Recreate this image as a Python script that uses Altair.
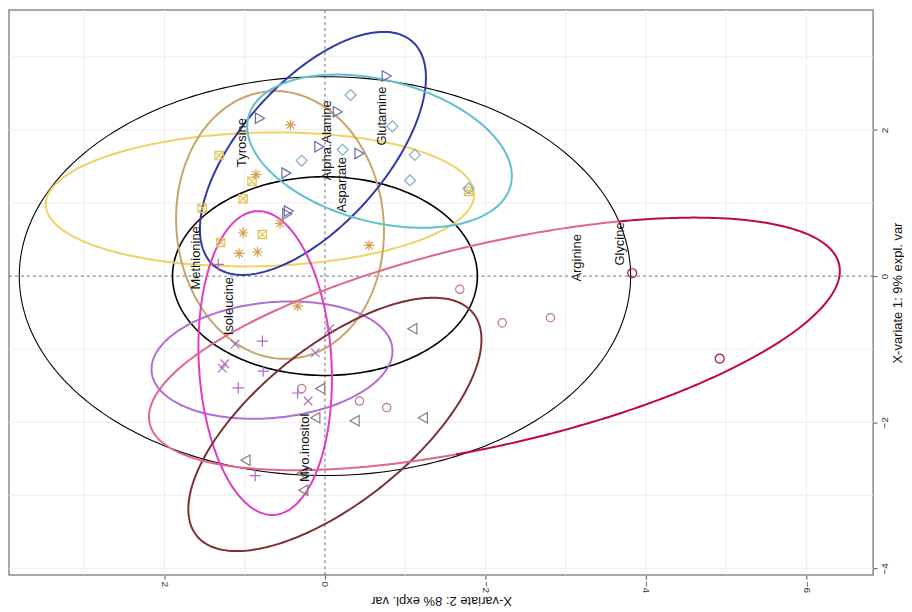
import math
import altair as alt
import pandas as pd

# ---------------- data (comp1 = X-variate 1, comp2 = X-variate 2) ----------------
met_c2 = [1.32, 1.53, 1.02, 0.91, 0.78, 1.30, -1.79]
met_c1 = [1.65, 0.93, 1.06, 1.30, 0.57, 0.46, 1.16]

tyr_c2 = [0.43, 0.86, 1.02, 1.07, 0.84, 0.56, -0.55, 0.34]
tyr_c1 = [2.07, 1.39, 0.59, 0.31, 0.33, 0.72, 0.42, -0.41]

ala_c2 = [-0.77, 0.81, -0.16, 0.07, -0.43, 0.48, 0.47, 0.45]
ala_c1 = [2.74, 2.16, 2.25, 1.77, 1.68, 1.41, 0.85, 0.89]

gln_c2 = [-0.32, -0.84, -0.22, 0.29, -1.12, -1.06, -1.79]
gln_c1 = [2.48, 2.05, 1.73, 1.58, 1.66, 1.31, 1.20]

ile_c2 = [1.33, 0.78, 0.77, 1.08, 0.87, 0.34]
ile_c1 = [0.16, -0.89, -1.30, -1.53, -2.73, -1.60]

myo_c2 = [1.12, 1.28, 1.25, 0.21, -0.06, 0.12]
myo_c1 = [-0.93, -1.26, -1.20, -1.71, -0.72, -1.05]

asp_c2 = [-1.09, 0.06, -0.37, -1.22, 0.12, 0.99, 0.29, 0.27]
asp_c1 = [-0.72, -1.54, -1.98, -1.94, -1.94, -2.52, -2.70, -2.93]

arg_c2 = [0.29, -0.43, -0.77, -1.68, -2.21, -2.81]
arg_c1 = [-1.54, -1.71, -1.80, -0.18, -0.64, -0.57]

gly_c2 = [-3.83, -4.92]
gly_c1 = [0.04, -1.13]

# ellipses: centre (c2, c1), half-axis vectors u and v (c2, c1)
ell_names = ["all", "inner", "Methionine", "Tyrosine", "Alpha.Alanine", "Glutamine",
             "Isoleucine", "Myo.inositol", "Aspartate", "Arginine", "Glycine"]
ell_cx = [0.0, 0.0, 0.81, 0.56, 0.15, -0.68, 0.66, 0.745, -0.124, -2.112, -2.112]
ell_cy = [0.0, 0.0, 1.05, 0.70, 1.68, 1.71, -1.15, -1.19, -2.03, -0.928, -0.928]
ell_ux = [3.81, 1.90, -2.67, -0.155, -1.24, -1.634, -1.50, 0.108, -1.723, -4.296, -4.296]
ell_uy = [0.0, 0.0, 0.075, -1.828, 1.53, -0.471, 0.162, 2.079, 1.523, 1.090, 1.090]
ell_vx = [0.0, 0.0, -0.021, -1.286, -0.668, 0.224, -0.071, -0.825, -0.607, -0.282, -0.282]
ell_vy = [2.73, 1.36, -0.914, 0.132, -0.653, -0.937, -0.787, 0.052, -0.829, -1.342, -1.342]
ell_t0 = [0, 0, 0, 0, 0, 0, 0, 0, 0, 100, -65]
ell_t1 = [360, 360, 360, 360, 360, 360, 360, 360, 360, 295, 100]

# labels
lab_text = ["Glycine", "Arginine", "Glutamine", "Alpha.Alanine", "Aspartate",
            "Tyrosine", "Methionine", "Isoleucine", "Myo.inositol"]
lab_c2 = [-3.68, -3.14, -0.71, -0.02, -0.21, 1.03, 1.61, 1.20, 0.25]
lab_c1 = [0.44, 0.25, 2.19, 1.86, 1.25, 1.83, 0.25, -0.41, -2.35]

x_ticks = [2, 0, -2, -4, -6]
y_ticks = [2, 0, -2, -4]
grid_x = [-6, -5, -4, -3, -2, -1, 1, 2, 3]
grid_y = [-4, -3, -2, -1, 1, 2, 3]

# ---------------- styles ----------------
ell_color = {"all": "#000000", "inner": "#000000", "Methionine": "#f0d264",
             "Tyrosine": "#c9a46a", "Alpha.Alanine": "#2f3aa6", "Glutamine": "#5fc0cc",
             "Isoleucine": "#b06ed6", "Myo.inositol": "#e03cc4", "Aspartate": "#7e3034",
             "Arginine": "#e0668a", "Glycine": "#c0083c"}
ell_width = {"all": 1.1, "inner": 1.6}

ASTER = "M-1,0L1,0M0,-1L0,1M-0.7,-0.7L0.7,0.7M-0.7,0.7L0.7,-0.7"
BOXX = "M-1,-1L1,-1L1,1L-1,1ZM-1,-1L1,1M-1,1L1,-1"
PLUS = "M-1,0L1,0M0,-1L0,1"
XMARK = "M-0.75,-0.75L0.75,0.75M-0.75,0.75L0.75,-0.75"

series = [
    ("Methionine", met_c2, met_c1, BOXX, "#e6c45a", 70),
    ("Tyrosine", tyr_c2, tyr_c1, ASTER, "#d4a050", 110),
    ("Alpha.Alanine", ala_c2, ala_c1, "triangle-right", "#6a6aaa", 110),
    ("Glutamine", gln_c2, gln_c1, "diamond", "#7fb0c4", 120),
    ("Isoleucine", ile_c2, ile_c1, PLUS, "#b068c8", 130),
    ("Myo.inositol", myo_c2, myo_c1, XMARK, "#a870c4", 130),
    ("Aspartate", asp_c2, asp_c1, "triangle-left", "#8a7a7a", 110),
    ("Arginine", arg_c2, arg_c1, "circle", "#c87890", 70),
    ("Glycine", gly_c2, gly_c1, "circle", "#a01030", 80),
]

# ---------------- scales / axes ----------------
XDOM = [-6.832, 3.938]
YDOM = [-4.093, 3.643]
xs = alt.Scale(domain=XDOM, reverse=True, nice=False, zero=False)
ys = alt.Scale(domain=YDOM, nice=False, zero=False)

FONT_T = "Liberation Sans Narrow, Liberation Sans, Arial"

x_axis = alt.Axis(
    orient="bottom", values=x_ticks, grid=False, labelAngle=90, labelAlign="left",
    labelBaseline="middle", labelFontSize=10, labelColor="#333333", tickColor="#555555",
    tickSize=4, domain=False, title="X-variate 2: 8% expl. var", titleAngle=180,
    titleBaseline="bottom",
    titleFontSize=13, titleFontWeight="normal", titleFont=FONT_T,
    titleColor="#111111", titlePadding=1, labelPadding=2)
y_axis = alt.Axis(
    orient="right", values=y_ticks, grid=False, labelAngle=270, labelAlign="center",
    labelBaseline="top", labelFontSize=10, labelColor="#333333", tickColor="#555555",
    tickSize=4, domain=False, title="X-variate 1: 9% expl. var", titleAngle=270,
    titleBaseline="top",
    titleFontSize=13, titleFontWeight="normal", titleFont=FONT_T,
    titleColor="#111111", titlePadding=2, labelPadding=2)


def X():
    return alt.X("c2:Q", scale=xs, axis=x_axis)


def Y():
    return alt.Y("c1:Q", scale=ys, axis=y_axis)


# ---------------- build tables ----------------
rows = []
for i, n in enumerate(ell_names):
    t0, t1 = ell_t0[i], ell_t1[i]
    steps = 240
    for k in range(steps + 1):
        t = math.radians(t0 + (t1 - t0) * k / steps)
        rows.append({
            "ell": f"{n}_{i}",
            "ord": k,
            "c2": ell_cx[i] + ell_ux[i] * math.cos(t) + ell_vx[i] * math.sin(t),
            "c1": ell_cy[i] + ell_uy[i] * math.cos(t) + ell_vy[i] * math.sin(t),
            "col": ell_color[n],
            "w": ell_width.get(n, 2.0),
        })
ell_df = pd.DataFrame(rows)

grid_v = alt.Chart(pd.DataFrame({"c2": grid_x})).mark_rule(color="#ececec", strokeWidth=1).encode(x=X())
grid_h = alt.Chart(pd.DataFrame({"c1": grid_y})).mark_rule(color="#ececec", strokeWidth=1).encode(y=Y())

zero_v = alt.Chart(pd.DataFrame({"c2": [0]})).mark_rule(
    color="#6e6e6e", strokeWidth=1, strokeDash=[3, 3]).encode(x=X())
zero_h = alt.Chart(pd.DataFrame({"c1": [0]})).mark_rule(
    color="#6e6e6e", strokeWidth=1, strokeDash=[3, 3]).encode(y=Y())

ellipses = alt.Chart(ell_df).mark_line(strokeCap="round").encode(
    x=X(), y=Y(), detail="ell:N", order="ord:Q",
    color=alt.Color("col:N", scale=None),
    strokeWidth=alt.StrokeWidth("w:Q", scale=None),
)

point_layers = []
for name, c2, c1, shape, col, size in series:
    df = pd.DataFrame({"c2": c2, "c1": c1})
    point_layers.append(
        alt.Chart(df).mark_point(shape=shape, color=col, filled=False, size=size,
                                 strokeWidth=1.2, opacity=1).encode(x=X(), y=Y())
    )

labels = alt.Chart(pd.DataFrame({"c2": lab_c2, "c1": lab_c1, "t": lab_text})).mark_text(
    angle=270, fontSize=13, font=FONT_T, color="#111111",
    align="center", baseline="middle").encode(x=X(), y=Y(), text="t:N")

chart = alt.layer(
    grid_v, grid_h, zero_v, zero_h, ellipses, *point_layers, labels
).properties(
    width=867, height=567,
    padding={"left": 0, "top": 0, "right": 0, "bottom": 0},
    background="white",
).configure_view(
    stroke="#8a8a8a", strokeWidth=1.5
)

chart.save("out.html", embed_options={"renderer": "svg", "actions": False})
